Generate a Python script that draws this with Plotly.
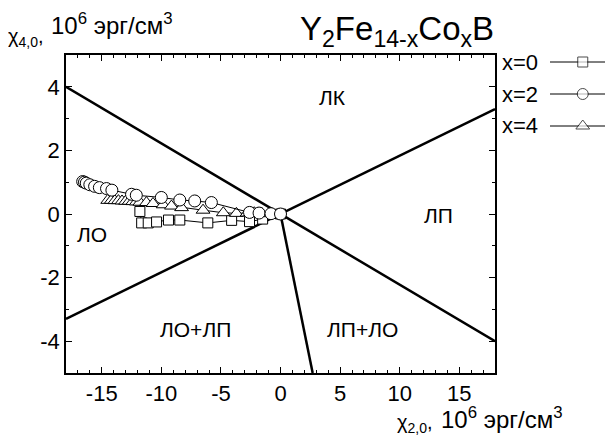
import plotly.graph_objects as go

# ---------------- data ----------------
sq_x = [-11.8, -11.65, -11.1, -10.4, -9.4, -8.45, -6.1, -4.1, -2.6, -1.5, 0.0]
sq_y = [0.08, -0.28, -0.28, -0.25, -0.19, -0.19, -0.28, -0.20, -0.24, -0.16, 0.0]

ci_x = [-16.6, -16.45, -16.3, -16.0, -15.6, -15.2, -14.6, -14.15, -12.5, -12.1,
        -10.0, -8.45, -7.2, -5.8, -2.6, -1.8, -0.8, 0.0]
ci_y = [1.02, 1.0, 0.97, 0.92, 0.87, 0.83, 0.80, 0.75, 0.62, 0.59,
        0.52, 0.44, 0.41, 0.36, 0.05, 0.03, 0.01, 0.0]

tr_x = [-14.5, -14.2, -13.9, -13.6, -13.3, -13.0, -12.7, -12.4, -12.1, -11.8,
        -11.25, -10.7, -9.85, -9.15, -8.3, -6.5, -4.8, -3.7, -2.8, -2.5,
        -2.2, -1.9, -1.6, -0.9, -0.1]
tr_y = [0.43, 0.43, 0.42, 0.42, 0.41, 0.40, 0.40, 0.39, 0.38, 0.37,
        0.36, 0.33, 0.29, 0.25, 0.20, 0.12, 0.04, 0.02, 0.03, 0.04,
        0.04, 0.03, 0.03, 0.01, 0.0]

series_names = ["x=0", "x=2", "x=4"]

# phase-boundary lines (endpoints)
b1_x = [-18, 18]
b1_y = [4.0, -4.0]
b2_x = [-18, 18]
b2_y = [-3.3, 3.3]
b3_x = [0, 2.7]
b3_y = [0, -5.0]

region_labels = ["ЛК", "ЛП", "ЛО", "ЛО+ЛП", "ЛП+ЛО"]
region_x = [4.35, 13.3, -15.8, -7.1, 6.9]
region_y = [3.65, -0.06, -0.63, -3.62, -3.62]

x_ticks = [-15, -10, -5, 0, 5, 10, 15]
y_ticks = [-4, -2, 0, 2, 4]

# ---------------- layout geometry ----------------
# page is 613x436; the figure div sits 8 px in from the page corner
OFF = 8
W, H = 613 - OFF, 436 - OFF
PLOT_L, PLOT_R, PLOT_T, PLOT_B = 66, 495, 55, 373   # page pixels
ML = PLOT_L - OFF
MT = PLOT_T - OFF
MB = 436 - PLOT_B
MR = 0
PW = W - ML - MR
PH = H - MT - MB


def px_x(p):
    return (p - PLOT_L) / PW


def px_y(q):
    return (PLOT_B - q) / PH


FONT = "Liberation Sans, Arial, sans-serif"

fig = go.Figure()

for bx, by in [(b1_x, b1_y), (b2_x, b2_y), (b3_x, b3_y)]:
    fig.add_trace(go.Scatter(x=bx, y=by, mode="lines",
                             line=dict(color="black", width=2.5),
                             showlegend=False, hoverinfo="skip"))

marker_common = dict(color="white", line=dict(color="black", width=1))
fig.add_trace(go.Scatter(x=sq_x, y=sq_y, mode="lines+markers", name=series_names[0],
                         line=dict(color="black", width=1),
                         marker=dict(symbol="square", size=10, **marker_common),
                         showlegend=False))
fig.add_trace(go.Scatter(x=tr_x, y=tr_y, mode="lines+markers", name=series_names[2],
                         line=dict(color="black", width=1),
                         marker=dict(symbol="triangle-up", size=12, **marker_common),
                         showlegend=False))
fig.add_trace(go.Scatter(x=ci_x, y=ci_y, mode="lines+markers", name=series_names[1],
                         line=dict(color="black", width=1),
                         marker=dict(symbol="circle", size=12, **marker_common),
                         showlegend=False))

# custom legend (text left of symbol)
legend_rows_px = [62, 94, 126]
legend_syms = ["square", "circle", "triangle-up"]
legend_sizes = [10, 11, 12]
for name, sym, sz, rowpx in zip(series_names, legend_syms, legend_sizes, legend_rows_px):
    fig.add_trace(go.Scatter(x=[0, 0.52, 1], y=[PLOT_B - rowpx] * 3, mode="lines+markers",
                             xaxis="x2", yaxis="y2",
                             line=dict(color="black", width=1),
                             marker=dict(symbol=sym, size=[0, sz, 0], **marker_common),
                             showlegend=False, hoverinfo="skip", cliponaxis=False))
    fig.add_annotation(text=name, xref="paper", yref="paper",
                       x=px_x(500), y=px_y(rowpx), xanchor="left", yanchor="middle",
                       showarrow=False, font=dict(family=FONT, size=22, color="black"))

for t, rx, ry in zip(region_labels, region_x, region_y):
    fig.add_annotation(text=t, x=rx, y=ry, xref="x", yref="y", showarrow=False,
                       font=dict(family=FONT, size=21, color="black"))

# title
fig.add_annotation(text="Y<sub>2</sub>Fe<sub>14-x</sub>Co<sub>x</sub>B",
                   xref="paper", yref="paper", x=px_x(397), y=px_y(31),
                   xanchor="center", yanchor="middle", showarrow=False,
                   font=dict(family=FONT, size=33, color="black"))

# y axis title (two parts)
fig.add_annotation(text="χ<sub>4,0</sub>,", xref="paper", yref="paper",
                   x=px_x(6), y=px_y(38), xanchor="left", yanchor="middle",
                   showarrow=False, font=dict(family=FONT, size=20, color="black"))
fig.add_annotation(text="10<sup>6</sup> эрг/см<sup>3</sup>", xref="paper", yref="paper",
                   x=px_x(49), y=px_y(24), xanchor="left", yanchor="middle",
                   showarrow=False, font=dict(family=FONT, size=24, color="black"))
# x axis title (two parts)
fig.add_annotation(text="χ<sub>2,0</sub>,", xref="paper", yref="paper",
                   x=px_x(395), y=px_y(423), xanchor="left", yanchor="middle",
                   showarrow=False, font=dict(family=FONT, size=20, color="black"))
fig.add_annotation(text="10<sup>6</sup> эрг/см<sup>3</sup>", xref="paper", yref="paper",
                   x=px_x(439), y=px_y(418), xanchor="left", yanchor="middle",
                   showarrow=False, font=dict(family=FONT, size=24, color="black"))

axis_common = dict(showline=True, linecolor="black", linewidth=1.5, mirror="allticks",
                   ticks="inside", ticklen=6, tickwidth=1.2, tickcolor="black",
                   showgrid=False, zeroline=False,
                   tickfont=dict(family=FONT, size=22, color="black"),
                   minor=dict(dtick=1, ticks="inside", ticklen=3, tickwidth=1,
                              tickcolor="black", showgrid=False))

fig.update_layout(
    width=W, height=H,
    margin=dict(l=ML, r=MR, t=MT, b=MB, pad=0),
    paper_bgcolor="white", plot_bgcolor="white",
    showlegend=False,
    xaxis=dict(range=[-18, 18], domain=[0, (PLOT_R - PLOT_L) / PW],
               tickvals=x_ticks, ticktext=[str(v) for v in x_ticks], **axis_common),
    yaxis=dict(range=[-5, 5], tickvals=y_ticks, ticktext=[str(v) for v in y_ticks],
               **axis_common),
    xaxis2=dict(domain=[px_x(550), 1.0], range=[0, 1], visible=False, anchor="y2"),
    yaxis2=dict(domain=[0, 1], range=[0, PH], visible=False, anchor="x2"),
)

fig.write_html("out.html")
